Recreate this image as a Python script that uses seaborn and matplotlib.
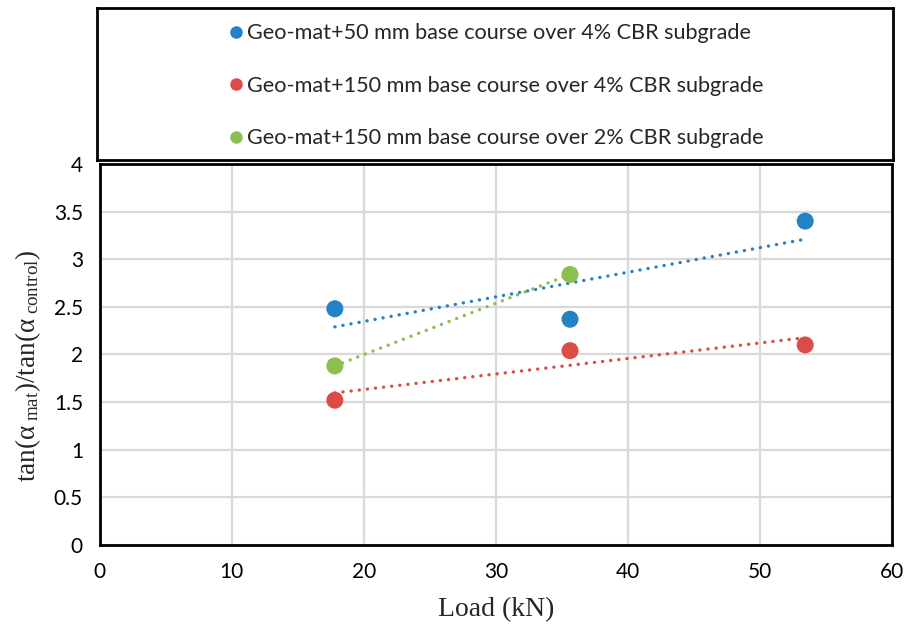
import matplotlib
matplotlib.use("Agg")
import matplotlib.pyplot as plt
from matplotlib.lines import Line2D
import seaborn as sns
import pandas as pd

# Load levels (kN) and normalized stress-distribution ratios
load_kn = [17.8, 35.6, 53.4]
geo50_4cbr = [2.48, 2.37, 3.40]
geo150_4cbr = [1.52, 2.04, 2.10]
geo150_2cbr = [1.88, 2.84]

series_names = [
    "Geo-mat+50 mm base course over 4% CBR subgrade",
    "Geo-mat+150 mm base course over 4% CBR subgrade",
    "Geo-mat+150 mm base course over 2% CBR subgrade",
]
series_colors = ["#2381C5", "#DC4C47", "#8BBF4F"]
x_ticks = [0, 10, 20, 30, 40, 50, 60]
y_ticks = [0, 0.5, 1, 1.5, 2, 2.5, 3, 3.5, 4]
y_tick_labels = ["0", "0.5", "1", "1.5", "2", "2.5", "3", "3.5", "4"]

frames = []
for name, vals in zip(series_names, [geo50_4cbr, geo150_4cbr, geo150_2cbr]):
    frames.append(pd.DataFrame({"load": load_kn[:len(vals)], "ratio": vals, "series": name}))
df = pd.concat(frames, ignore_index=True)

sns.set_theme(style="white")
plt.rcParams["font.family"] = ["Lato", "DejaVu Sans"]
plt.rcParams["mathtext.fontset"] = "custom"
plt.rcParams["mathtext.rm"] = "Liberation Serif"
plt.rcParams["mathtext.it"] = "Liberation Serif:italic"

fig = plt.figure(figsize=(9.06, 6.33), dpi=100)
ax = fig.add_axes([0.110, 0.139, 0.875, 0.602])
ax_leg = fig.add_axes([0.107, 0.747, 0.879, 0.240])

# Dotted linear trendlines across each series' load range
for name, color in zip(series_names, series_colors):
    sub = df[df["series"] == name]
    sns.regplot(data=sub, x="load", y="ratio", ax=ax, scatter=False, ci=None,
                truncate=True,
                line_kws=dict(color=color, lw=2.4, linestyle=(0, (0.05, 2.4)),
                              dash_capstyle="round", solid_capstyle="round"))

sns.scatterplot(data=df, x="load", y="ratio", hue="series", hue_order=series_names,
                palette=series_colors, s=150, edgecolor="none", ax=ax,
                legend=False, zorder=5)

ax.set_xlim(0, 60)
ax.set_ylim(0, 4)
ax.set_xticks(x_ticks)
ax.set_yticks(y_ticks)
ax.set_yticklabels(y_tick_labels)
ax.tick_params(axis="both", labelsize=15, colors="black", length=0, pad=12)
ax.grid(True, color="#D9D9D9", lw=1.6)
ax.set_axisbelow(True)
for sp in ax.spines.values():
    sp.set_visible(True)
    sp.set_color("black")
    sp.set_linewidth(2.0)

ax.set_xlabel("Load (kN)", fontsize=20, family="Liberation Serif", labelpad=11)
ax.set_ylabel(r"tan(α$_{\rm\ mat}$)/tan(α$_{\rm\ control}$)", fontsize=19.5,
              family="Liberation Serif", labelpad=11)
ax.yaxis.set_label_coords(-0.072, 0.47)

# Legend in its own framed panel above the plot
ax_leg.set_xticks([])
ax_leg.set_yticks([])
for sp in ax_leg.spines.values():
    sp.set_visible(True)
    sp.set_color("black")
    sp.set_linewidth(2.0)
handles = [Line2D([], [], marker="o", linestyle="none", markersize=9,
                  markerfacecolor=c, markeredgecolor="none") for c in series_colors]
ax_leg.legend(handles, series_names, loc="center", frameon=False, fontsize=15.6,
              labelspacing=1.5, handletextpad=0.05, handlelength=0.9,
              borderaxespad=0, bbox_to_anchor=(0.5, 0.49))

fig.savefig("out.png", dpi=100)
